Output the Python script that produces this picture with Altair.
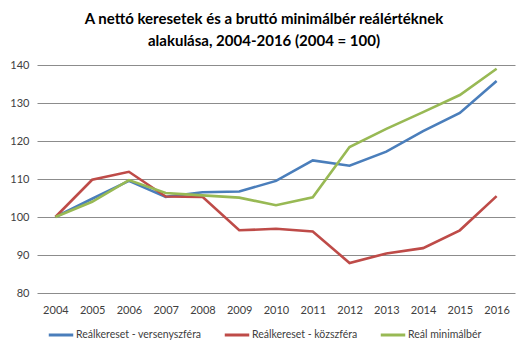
import altair as alt
import pandas as pd

years = ["2004", "2005", "2006", "2007", "2008", "2009", "2010",
         "2011", "2012", "2013", "2014", "2015", "2016"]
series_names = ["Reálkereset - versenyszféra", "Reálkereset - közszféra", "Reál minimálbér"]
verseny = [100, 104.8, 109.5, 105.3, 106.5, 106.7, 109.5, 114.9, 113.5, 117.2, 122.6, 127.4, 135.8]
kozszfera = [100, 109.8, 111.9, 105.4, 105.3, 96.5, 96.9, 96.2, 87.9, 90.4, 91.8, 96.5, 105.5]
minimalber = [100, 104.0, 109.7, 106.3, 105.7, 105.1, 103.1, 105.2, 118.4, 123.2, 127.6, 132.1, 139.0]
colors = ["#4a7ebb", "#be4b48", "#98b954"]
y_ticks = [80, 90, 100, 110, 120, 130, 140]

rows = []
for name, vals in zip(series_names, [verseny, kozszfera, minimalber]):
    for i, (yr, v) in enumerate(zip(years, vals)):
        rows.append({"year": yr, "value": v, "series": name, "s": series_names.index(name)})
df = pd.DataFrame(rows)

FONT = "Lato"

chart = alt.Chart(df).mark_line(strokeWidth=2.6).encode(
    x=alt.X("year:O", sort=years,
            scale=alt.Scale(type="point", padding=0.5),
            axis=alt.Axis(title=None, labelAngle=0, ticks=False, domain=False, grid=False,
                          labelPadding=11, labelFontSize=11, labelColor="#404040", labelFont=FONT)),
    y=alt.Y("value:Q",
            scale=alt.Scale(domain=[80, 140], nice=False, zero=False),
            axis=alt.Axis(title=None, values=y_ticks, ticks=False, domain=False,
                          gridColor="#8c8c8c", gridWidth=1, labelPadding=8,
                          labelFontSize=11, labelColor="#404040", labelFont=FONT)),
    color=alt.Color("series:N",
                    scale=alt.Scale(domain=series_names, range=colors),
                    legend=alt.Legend(title=None, orient="none", legendX=10, legendY=256,
                                      direction="horizontal", symbolType="stroke",
                                      symbolSize=600, symbolStrokeWidth=3,
                                      labelFontSize=10.5, labelFont=FONT, labelColor="#404040",
                                      columnPadding=16, labelOffset=1, labelLimit=300)),
    order=alt.Order("s:Q"),
    detail="series:N",
).properties(
    width=478,
    height=228,
    title=alt.TitleParams(
        ["A nettó keresetek és a bruttó minimálbér reálértéknek",
         "alakulása, 2004-2016 (2004 = 100)"],
        fontSize=15, font=FONT, fontWeight="bold", anchor="middle", dx=-12,
        offset=10, lineHeight=22, color="black"),
    autosize=alt.AutoSizeParams(type="none"),
    padding={"left": 37, "top": 65, "right": 13, "bottom": 59},
).configure_view(stroke=None)

chart.save("out.html", embed_options={"renderer": "svg", "actions": False})
